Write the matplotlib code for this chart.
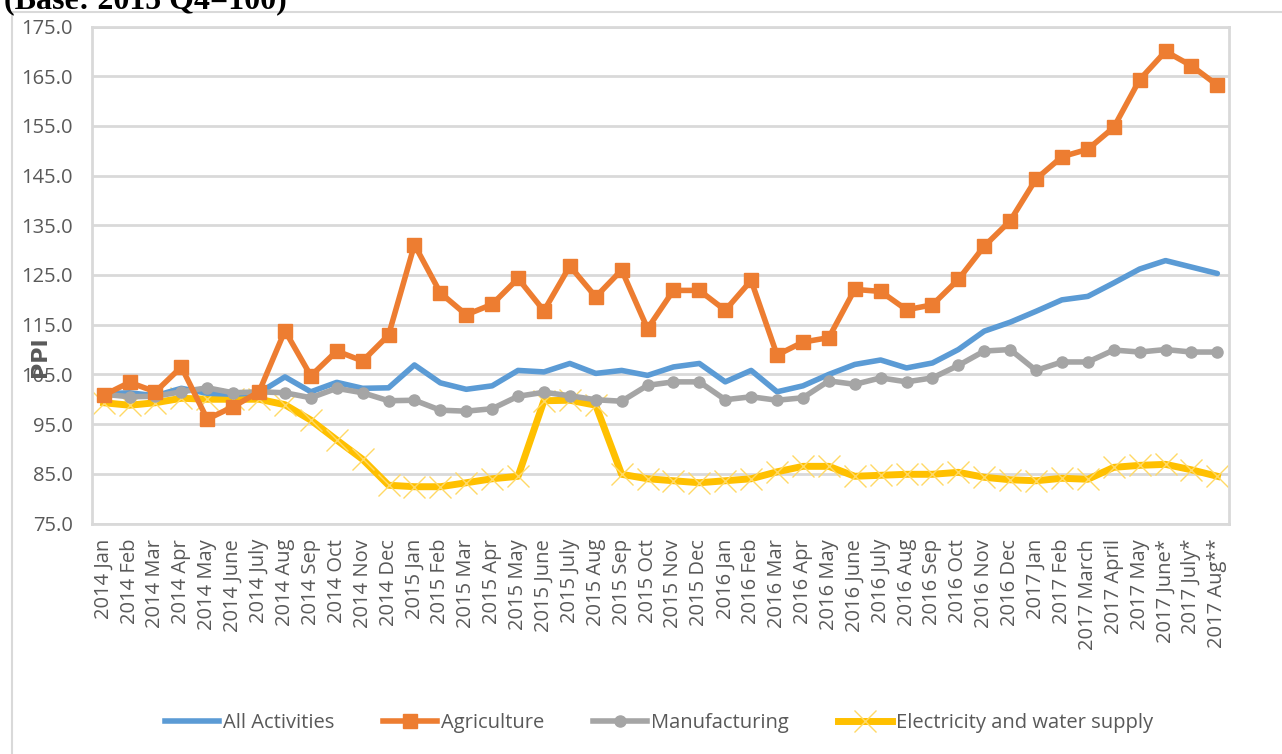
import numpy as np
import matplotlib.pyplot as plt
from matplotlib.lines import Line2D

months = ["2014 Jan", "2014 Feb", "2014 Mar", "2014 Apr", "2014 May", "2014 June",
          "2014 July", "2014 Aug", "2014 Sep", "2014 Oct", "2014 Nov", "2014 Dec",
          "2015 Jan", "2015 Feb", "2015 Mar", "2015 Apr", "2015 May", "2015 June",
          "2015 July", "2015 Aug", "2015 Sep", "2015 Oct", "2015 Nov", "2015 Dec",
          "2016 Jan", "2016 Feb", "2016 Mar", "2016 Apr", "2016 May", "2016 June",
          "2016 July", "2016 Aug", "2016 Sep", "2016 Oct", "2016 Nov", "2016 Dec",
          "2017 Jan", "2017 Feb", "2017 March", "2017 April", "2017 May", "2017 June*",
          "2017 July*", "2017 Aug**"]

all_activities = [101.1, 101.3, 100.7, 102.2, 101.2, 101.0, 101.3, 104.5, 101.5, 103.4,
                  102.2, 102.3, 106.9, 103.3, 102.0, 102.7, 105.8, 105.5, 107.2, 105.2,
                  105.8, 104.8, 106.5, 107.2, 103.5, 105.8, 101.5, 102.7, 105.0, 107.0,
                  107.9, 106.3, 107.3, 110.0, 113.7, 115.5, 117.7, 120.0, 120.7, 123.4,
                  126.2, 127.9, 126.6, 125.3]
agriculture = [100.8, 103.4, 101.5, 106.5, 96.0, 98.5, 101.5, 113.8, 104.7, 109.7,
               107.7, 112.9, 131.1, 121.4, 117.0, 119.1, 124.3, 117.8, 126.8, 120.6,
               126.0, 114.2, 121.9, 121.9, 117.9, 123.9, 108.9, 111.5, 112.4, 122.1,
               121.7, 118.0, 119.0, 124.1, 130.8, 135.9, 144.3, 148.8, 150.3, 154.7,
               164.3, 170.0, 167.1, 163.2]
manufacturing = [101.0, 100.5, 100.6, 101.5, 102.3, 101.3, 101.5, 101.3, 100.3, 102.2,
                 101.3, 99.7, 99.8, 97.8, 97.6, 98.1, 100.6, 101.4, 100.7, 99.9,
                 99.6, 102.8, 103.5, 103.5, 99.9, 100.5, 99.8, 100.3, 103.7, 103.0,
                 104.3, 103.5, 104.3, 106.8, 109.7, 110.0, 105.8, 107.5, 107.5, 109.9,
                 109.5, 110.0, 109.5, 109.5]
electricity = [99.3, 98.8, 99.3, 100.2, 100.0, 100.0, 100.0, 98.9, 95.8, 91.8,
               87.9, 82.7, 82.4, 82.4, 83.2, 84.0, 84.5, 99.7, 99.8, 98.8,
               84.9, 84.0, 83.6, 83.2, 83.6, 84.0, 85.4, 86.5, 86.5, 84.5,
               84.7, 84.9, 84.9, 85.3, 84.3, 83.8, 83.6, 84.1, 83.9, 86.3,
               86.7, 86.9, 85.8, 84.5]

W, H = 1282, 754
fig = plt.figure(figsize=(W / 100, H / 100), dpi=100)
ax = fig.add_axes([92 / W, 1 - 523.5 / H, (1229 - 92) / W, (523.5 - 26.5) / H])

x = np.arange(len(months))
ax.plot(x, all_activities, color="#5B9BD5", lw=4, solid_capstyle="round", zorder=3)
ax.plot(x, agriculture, color="#ED7D31", lw=4, marker="s", ms=10, zorder=4)
ax.plot(x, manufacturing, color="#A5A5A5", lw=4, marker="o", ms=8, zorder=3)
ax.plot(x, electricity, color="#FFC000", lw=5, zorder=2)
ax.plot(x, electricity, ls="none", marker="x", ms=16, mew=1, mec="#FFD966", zorder=2)

ax.set_xlim(-0.45, len(months) - 0.55)
ax.set_ylim(75, 175)
ax.set_yticks(np.arange(75, 176, 10))
ax.set_yticklabels([f"{v:.1f}" for v in np.arange(75, 176, 10)])
ax.set_xticks(x)
ax.set_xticklabels(months, rotation=90)
ax.grid(axis="y", color="#D9D9D9", lw=2)
ax.set_axisbelow(True)
for s in ax.spines.values():
    s.set_color("#D9D9D9")
    s.set_linewidth(2)
ax.tick_params(length=0, colors="#595959")
ax.tick_params(axis="x", labelsize=14.5, pad=11)
ax.tick_params(axis="y", labelsize=14.5, pad=14)
for lab in ax.get_xticklabels() + ax.get_yticklabels():
    lab.set_fontfamily("Open Sans")

fig.text(40 / W, 1 - 357 / H, "PPI", rotation=90, ha="center", va="center",
         fontsize=16, fontweight="bold", color="#595959", family="DejaVu Sans")
fig.text(4 / W, 1 - 8 / H, "(Base: 2015 Q4=100)", ha="left", va="baseline",
         fontsize=23, fontweight="bold", family="Liberation Serif", color="black")

# outer frame
fig.add_artist(Line2D([12 / W, 12 / W], [0, 1 - 12 / H], color="#D9D9D9", lw=1.5))
fig.add_artist(Line2D([12 / W, 1], [1 - 12 / H, 1 - 12 / H], color="#D9D9D9", lw=1.5))

handles = [
    Line2D([], [], color="#5B9BD5", lw=4),
    Line2D([], [], color="#ED7D31", lw=4, marker="s", ms=10),
    Line2D([], [], color="#A5A5A5", lw=4, marker="o", ms=8),
    Line2D([], [], color="#FFC000", lw=5, marker="x", ms=16, mew=1, mec="#FFD966"),
]
labels = ["All Activities", "Agriculture", "Manufacturing", "Electricity and water supply"]
fig.legend(handles, labels, loc="center", bbox_to_anchor=(659 / W, 1 - 723 / H),
           ncol=4, frameon=False, handlelength=2.7, handletextpad=0.2, columnspacing=2.4,
           prop={"family": "Open Sans", "size": 14.5}, labelcolor="#595959")

fig.savefig("out.png", dpi=100)
